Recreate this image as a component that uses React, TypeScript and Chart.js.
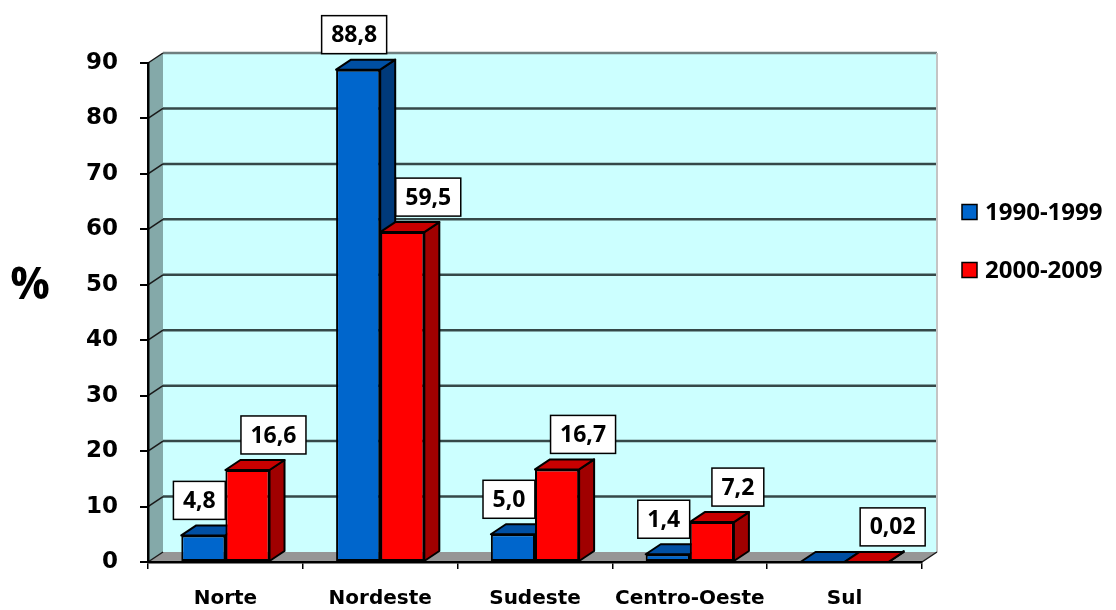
import React, { useEffect, useRef } from "react";
import { Chart, registerables } from "chart.js";

Chart.register(...registerables);

const categories = ["Norte", "Nordeste", "Sudeste", "Centro-Oeste", "Sul"];
const series1990 = [4.8, 88.8, 5.0, 1.4, 0];
const series2000 = [16.6, 59.5, 16.7, 7.2, 0.02];
const labels1990 = ["4,8", "88,8", "5,0", "1,4", ""];
const labels2000 = ["16,6", "59,5", "16,7", "7,2", "0,02"];
const seriesNames = ["1990-1999", "2000-2009"];
const yMax = 90;
const yStep = 10;

const frontColors = ["#0066CC", "#FF0000"];
const topColors = ["#004FA3", "#C80000"];
const sideColors = ["#003A7A", "#A00000"];
const labelShift = [-4, 26];

const DX = 15;
const DY = -10;

const threeD = {
  id: "threeD",
  beforeDraw(chart: any) {
    const ctx = chart.ctx;
    const { left, right, top, bottom } = chart.chartArea;
    const ys = chart.scales.y;
    ctx.save();
    ctx.fillStyle = "#CCFFFF";
    ctx.fillRect(left + DX, top + DY, right - left, bottom - top);
    ctx.fillStyle = "#84A9A9";
    ctx.beginPath();
    ctx.moveTo(left, top);
    ctx.lineTo(left + DX, top + DY);
    ctx.lineTo(left + DX, bottom + DY);
    ctx.lineTo(left, bottom);
    ctx.closePath();
    ctx.fill();
    ctx.fillStyle = "#969696";
    ctx.beginPath();
    ctx.moveTo(left, bottom);
    ctx.lineTo(right, bottom);
    ctx.lineTo(right + DX, bottom + DY);
    ctx.lineTo(left + DX, bottom + DY);
    ctx.closePath();
    ctx.fill();
    for (let v = yStep; v <= yMax; v += yStep) {
      const y = ys.getPixelForValue(v);
      ctx.strokeStyle = v === yMax ? "#6E7F7F" : "#354848";
      ctx.lineWidth = 2.5;
      ctx.beginPath();
      ctx.moveTo(left + DX, y + DY);
      ctx.lineTo(right + DX, y + DY);
      ctx.stroke();
      ctx.strokeStyle = "#1a1a1a";
      ctx.lineWidth = 1.5;
      ctx.beginPath();
      ctx.moveTo(left, y);
      ctx.lineTo(left + DX, y + DY);
      ctx.stroke();
    }
    ctx.strokeStyle = "#C4C4C4";
    ctx.lineWidth = 2;
    ctx.beginPath();
    ctx.moveTo(right + DX, top + DY);
    ctx.lineTo(right + DX, bottom + DY);
    ctx.stroke();
    ctx.strokeStyle = "#1a1a1a";
    ctx.lineWidth = 1.5;
    ctx.beginPath();
    ctx.moveTo(right, bottom);
    ctx.lineTo(right + DX, bottom + DY);
    ctx.moveTo(left, bottom);
    ctx.lineTo(left + DX, bottom + DY);
    ctx.stroke();
    ctx.restore();
  },
  beforeDatasetsDraw(chart: any) {
    const ctx = chart.ctx;
    ctx.save();
    ctx.lineWidth = 2;
    ctx.strokeStyle = "#000";
    ctx.lineJoin = "round";
    const n = categories.length;
    for (let i = 0; i < n; i++) {
      for (let d = 0; d < chart.data.datasets.length; d++) {
        const el: any = chart.getDatasetMeta(d).data[i];
        const w = el.width;
        const xl = el.x - w / 2;
        const xr = el.x + w / 2;
        const yt = el.y;
        const yb = el.base;
        ctx.fillStyle = sideColors[d];
        ctx.beginPath();
        ctx.moveTo(xr, yt);
        ctx.lineTo(xr + DX, yt + DY);
        ctx.lineTo(xr + DX, yb + DY);
        ctx.lineTo(xr, yb);
        ctx.closePath();
        ctx.fill();
        ctx.stroke();
        ctx.fillStyle = topColors[d];
        ctx.beginPath();
        ctx.moveTo(xl, yt);
        ctx.lineTo(xl + DX, yt + DY);
        ctx.lineTo(xr + DX, yt + DY);
        ctx.lineTo(xr, yt);
        ctx.closePath();
        ctx.fill();
        ctx.stroke();
      }
    }
    ctx.restore();
  },
  afterDatasetsDraw(chart: any) {
    const ctx = chart.ctx;
    const allLabels = [labels1990, labels2000];
    ctx.save();
    ctx.font = "bold 23px 'Open Sans'";
    ctx.textAlign = "center";
    ctx.textBaseline = "middle";
    for (let d = 0; d < allLabels.length; d++) {
      const meta = chart.getDatasetMeta(d);
      allLabels[d].forEach((txt, i) => {
        if (!txt) return;
        const el: any = meta.data[i];
        const tw = ctx.measureText(txt).width;
        const bw = tw + 19;
        const bh = 38;
        const cx = el.x + labelShift[d];
        const bottomY = el.y + DY - 6;
        ctx.fillStyle = "#fff";
        ctx.strokeStyle = "#000";
        ctx.lineWidth = 1.5;
        ctx.fillRect(cx - bw / 2, bottomY - bh, bw, bh);
        ctx.strokeRect(cx - bw / 2, bottomY - bh, bw, bh);
        ctx.fillStyle = "#000";
        ctx.fillText(txt, cx, bottomY - bh / 2 + 1);
      });
    }
    ctx.restore();
  },
  afterDraw(chart: any) {
    const ctx = chart.ctx;
    ctx.save();
    ctx.font = "bold 44px 'Open Sans'";
    ctx.fillStyle = "#000";
    ctx.textAlign = "center";
    ctx.textBaseline = "middle";
    ctx.fillText("%", 30, 286);
    const lx = 962;
    const lys = [212, 270];
    ctx.font = "bold 24px 'Open Sans'";
    ctx.textAlign = "left";
    seriesNames.forEach((name, d) => {
      const y = lys[d];
      ctx.fillStyle = frontColors[d];
      ctx.fillRect(lx, y - 7.5, 15, 15);
      ctx.strokeStyle = "#000";
      ctx.lineWidth = 1.5;
      ctx.strokeRect(lx, y - 7.5, 15, 15);
      ctx.fillStyle = "#000";
      ctx.fillText(name, lx + 23, y + 1);
    });
    ctx.restore();
  },
};

export default function App() {
  const ref = useRef<HTMLCanvasElement | null>(null);
  useEffect(() => {
    document.body.style.margin = "0";
    const canvas = ref.current;
    if (!canvas) return;
    const chart = new Chart(canvas, {
      type: "bar",
      data: {
        labels: categories,
        datasets: [
          {
            label: seriesNames[0],
            data: series1990,
            backgroundColor: frontColors[0],
            borderColor: "#000",
            borderWidth: 2,
            borderSkipped: false,
          },
          {
            label: seriesNames[1],
            data: series2000,
            backgroundColor: frontColors[1],
            borderColor: "#000",
            borderWidth: 2,
            borderSkipped: false,
          },
        ],
      },
      options: {
        responsive: false,
        animation: false,
        devicePixelRatio: 1,
        layout: { padding: { left: 0, right: 194, top: 63, bottom: 0 } },
        datasets: {
          bar: { categoryPercentage: 0.57, barPercentage: 1 },
        },
        plugins: {
          legend: { display: false },
          tooltip: { enabled: false },
        },
        scales: {
          x: {
            offset: true,
            grid: {
              offset: true,
              drawOnChartArea: false,
              drawTicks: true,
              tickLength: 7,
              color: "#000",
              lineWidth: 1.5,
            },
            border: { color: "#000", width: 2.5 },
            ticks: {
              color: "#000",
              font: { family: "'DejaVu Sans'", weight: "bold", size: 20 },
              padding: 18,
              maxRotation: 0,
              autoSkip: false,
            },
            afterFit: (s: any) => {
              s.height = 48;
            },
          },
          y: {
            min: 0,
            max: yMax,
            grid: {
              drawOnChartArea: false,
              drawTicks: true,
              tickLength: 8,
              color: "#000",
              lineWidth: 2,
            },
            border: { color: "#000", width: 2.5 },
            ticks: {
              stepSize: yStep,
              color: "#000",
              font: { family: "'DejaVu Sans'", weight: "bold", size: 23 },
              padding: 22,
            },
            afterFit: (s: any) => {
              s.width = 148;
            },
          },
        },
      },
      plugins: [threeD],
    } as any);
    return () => chart.destroy();
  }, []);
  return (
    <div style={{ width: 1116, height: 610 }}>
      <canvas ref={ref} width={1116} height={610} style={{ display: "block" }} />
    </div>
  );
}
